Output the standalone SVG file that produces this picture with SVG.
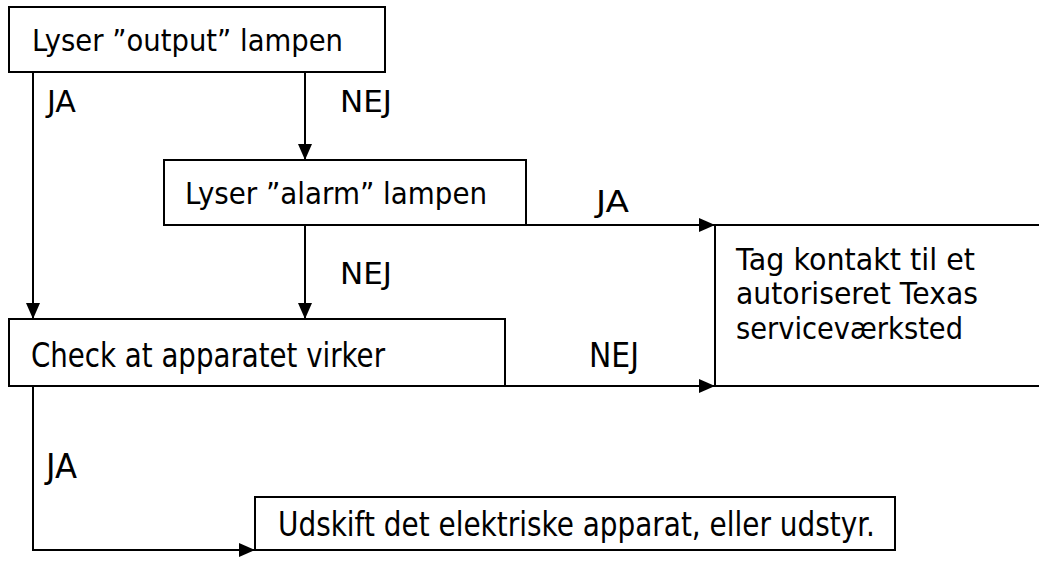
<svg xmlns="http://www.w3.org/2000/svg" width="1039" height="561" viewBox="0 0 1039 561">
<style>
.box{fill:#fff;stroke:#000;stroke-width:2}
.ln{fill:none;stroke:#000;stroke-width:2}
text{font-family:"DejaVu Sans","Liberation Sans",sans-serif;font-size:31px;fill:#000}
.cd{font-size:33px}
</style>
<defs>
<marker id="ah" viewBox="0 0 16 14" refX="16" refY="7" markerWidth="16" markerHeight="14" markerUnits="userSpaceOnUse" orient="auto">
<path d="M0,0 L16,7 L0,14 Z" fill="#000"/>
</marker>
</defs>
<rect width="1039" height="561" fill="#fff"/>
<g id="connectors">
<path class="ln" d="M33,72 V319" marker-end="url(#ah)"/>
<path class="ln" d="M305,72 V160" marker-end="url(#ah)"/>
<path class="ln" d="M305,225 V319" marker-end="url(#ah)"/>
<path class="ln" d="M526,225 H715" marker-end="url(#ah)"/>
<path class="ln" d="M430,386 H715" marker-end="url(#ah)"/>
<path class="ln" d="M33,386 V550 H255" marker-end="url(#ah)"/>
<text x="47" y="112" textLength="29" lengthAdjust="spacingAndGlyphs">JA</text>
<text x="340" y="112" textLength="52" lengthAdjust="spacingAndGlyphs">NEJ</text>
<text x="596" y="212" textLength="33" lengthAdjust="spacingAndGlyphs">JA</text>
<text x="340" y="284" textLength="52" lengthAdjust="spacingAndGlyphs">NEJ</text>
<text class="cd" x="589" y="367" textLength="50" lengthAdjust="spacingAndGlyphs">NEJ</text>
<text class="cd" x="46" y="478" textLength="31" lengthAdjust="spacingAndGlyphs">JA</text>
</g>
<g id="n1">
<rect class="box" x="9" y="7" width="376" height="65"/>
<text x="32" y="51" textLength="311" lengthAdjust="spacingAndGlyphs">Lyser ”output” lampen</text>
</g>
<g id="n2">
<rect class="box" x="164" y="160" width="362" height="65"/>
<text x="185" y="204" textLength="302" lengthAdjust="spacingAndGlyphs">Lyser ”alarm” lampen</text>
</g>
<g id="n3">
<rect class="box" x="715" y="225" width="340" height="161"/>
<text x="736" y="270" textLength="239" lengthAdjust="spacingAndGlyphs">Tag kontakt til et</text>
<text x="736" y="304" textLength="242" lengthAdjust="spacingAndGlyphs">autoriseret Texas</text>
<text x="736" y="339" textLength="227" lengthAdjust="spacingAndGlyphs">serviceværksted</text>
</g>
<g id="n4">
<rect class="box" x="9" y="319" width="496" height="67"/>
<text class="cd" x="31" y="367" textLength="354" lengthAdjust="spacingAndGlyphs">Check at apparatet virker</text>
</g>
<g id="n5">
<rect class="box" x="255" y="497" width="640" height="53"/>
<text class="cd" x="278" y="536" textLength="597" lengthAdjust="spacingAndGlyphs">Udskift det elektriske apparat, eller udstyr.</text>
</g>
</svg>
